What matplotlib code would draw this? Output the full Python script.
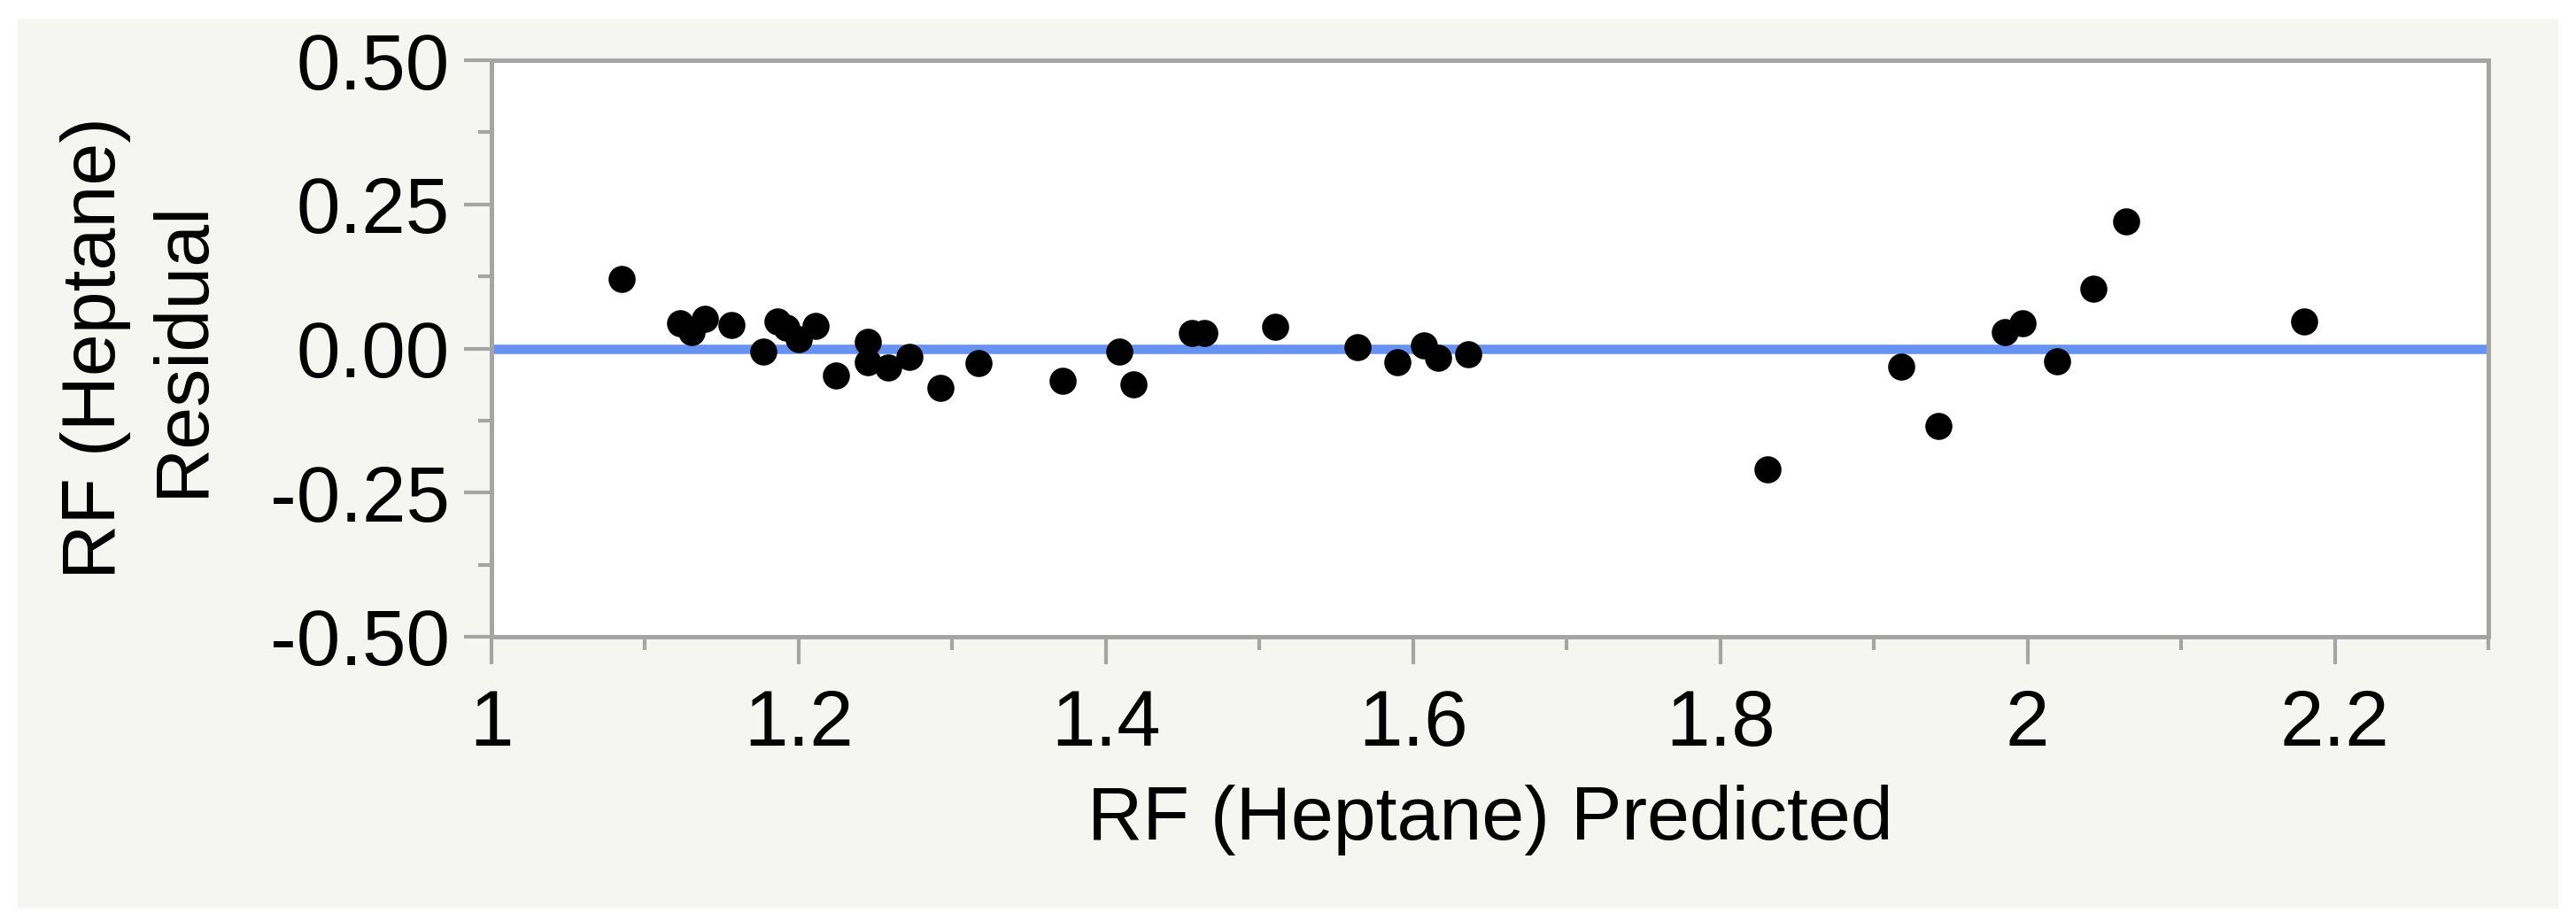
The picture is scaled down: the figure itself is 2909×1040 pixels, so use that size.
import matplotlib
matplotlib.use('Agg')
import matplotlib.pyplot as plt
from matplotlib.patches import Rectangle
from matplotlib.ticker import MultipleLocator, FormatStrFormatter, FuncFormatter

# residual vs predicted
predicted = [1.085, 1.123, 1.130, 1.139, 1.156, 1.177, 1.186, 1.192, 1.200, 1.211,
             1.224, 1.245, 1.245, 1.258, 1.272, 1.292, 1.317, 1.372, 1.409, 1.418,
             1.456, 1.464, 1.510, 1.564, 1.590, 1.607, 1.616, 1.636, 1.831, 1.918,
             1.942, 1.985, 1.997, 2.019, 2.043, 2.064, 2.180]
residual = [0.120, 0.044, 0.028, 0.051, 0.041, -0.006, 0.047, 0.036, 0.016, 0.039,
            -0.047, 0.011, -0.024, -0.033, -0.015, -0.068, -0.026, -0.056, -0.005, -0.062,
            0.027, 0.027, 0.038, 0.003, -0.024, 0.005, -0.016, -0.010, -0.210, -0.031,
            -0.134, 0.028, 0.044, -0.022, 0.104, 0.220, 0.047]

xTitle = 'RF (Heptane) Predicted'
yTitle = 'RF (Heptane)\nResidual'

plt.rcParams['font.family'] = ['Liberation Sans', 'DejaVu Sans']

W, H = 2909, 1040
fig = plt.figure(figsize=(W / 200, H / 200), dpi=200)
fig.patch.set_facecolor('white')

# light panel behind the plot
fig.patches.append(Rectangle((20 / W, 1 - 1026 / H), (2889 - 20) / W, (1026 - 21) / H,
                             transform=fig.transFigure, facecolor='#f5f5f1',
                             edgecolor='none', zorder=-10))

ax = fig.add_axes([555 / W, 1 - 719 / H, (2810 - 555) / W, (719 - 68) / H])
ax.set_facecolor('white')

gray = '#a5a5a5'
for side in ax.spines:
  ax.spines[side].set_color(gray)
  ax.spines[side].set_linewidth(1.8)

ax.axhline(0, color='#6692f4', linewidth=3.8, zorder=2)
ax.plot(predicted, residual, 'o', color='black', markersize=10, zorder=3)

def format_x(v, pos=None):
  return ('%.1f' % v).rstrip('0').rstrip('.')

ax.set_xlim(1, 2.3)
ax.set_ylim(-0.5, 0.5)
ax.xaxis.set_major_locator(MultipleLocator(0.2))
ax.xaxis.set_minor_locator(MultipleLocator(0.1))
ax.yaxis.set_major_locator(MultipleLocator(0.25))
ax.yaxis.set_minor_locator(MultipleLocator(0.125))
ax.xaxis.set_major_formatter(FuncFormatter(format_x))
ax.yaxis.set_major_formatter(FormatStrFormatter('%.2f'))

ax.tick_params(axis='both', which='major', length=11, width=1.5, color=gray,
               labelsize=32, labelcolor='black')
ax.tick_params(axis='both', which='minor', length=5.5, width=1.5, color=gray)
ax.tick_params(axis='x', which='major', pad=10)
ax.tick_params(axis='y', which='major', pad=6)

ax.set_xlabel(xTitle, fontsize=31, labelpad=9)
ax.set_ylabel(yTitle, fontsize=31, labelpad=21, linespacing=1.3)

plt.savefig('out.png', dpi=200)
